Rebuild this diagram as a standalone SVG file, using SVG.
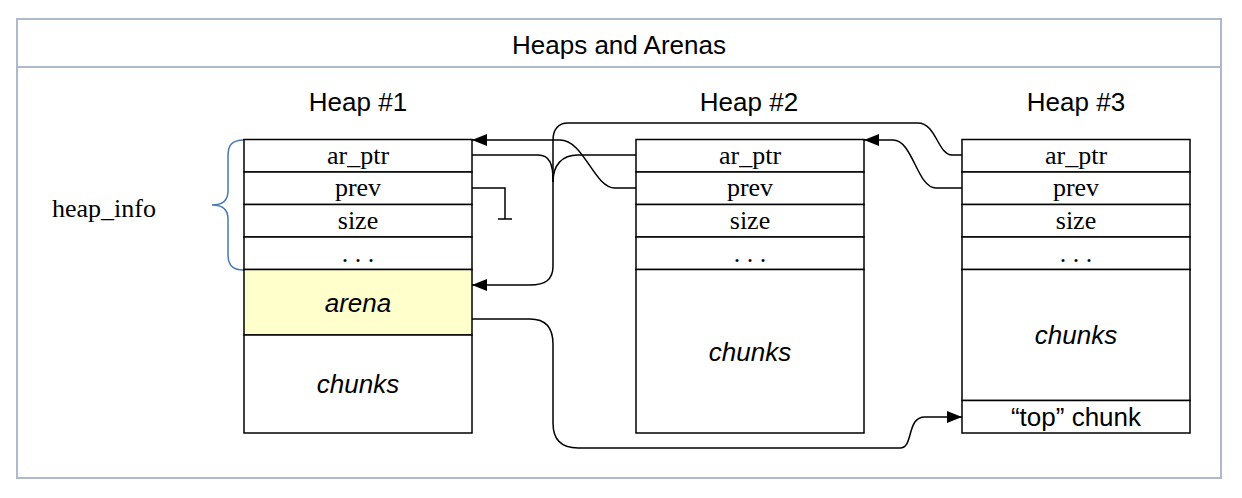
<svg xmlns="http://www.w3.org/2000/svg" width="1242" height="498" viewBox="0 0 1242 498">
<defs>
<marker id="arr" markerUnits="userSpaceOnUse" markerWidth="18" markerHeight="14" refX="15" refY="6" orient="auto">
<path d="M0,0 L15,6 L0,12 z" fill="#000"/>
</marker>
<style>
.frame{fill:#fff;stroke:#AEB9CB;stroke-width:2}
.box{fill:#fff;stroke:#000;stroke-width:1.5}
.yel{fill:#FFFFCC;stroke:#000;stroke-width:1.5}
.row{font-family:"Liberation Serif",serif;font-size:26px;fill:#000;text-anchor:middle}
.ttl{font-family:"Liberation Sans",Arial,sans-serif;font-size:26px;fill:#000;text-anchor:middle}
.it{font-family:"Liberation Sans",Arial,sans-serif;font-size:26px;font-style:italic;fill:#000;text-anchor:middle}
.conn{fill:none;stroke:#000;stroke-width:1.5}
</style>
</defs>
<rect x="0" y="0" width="1242" height="498" fill="#fff"/>
<g id="frame">
<rect class="frame" x="17" y="19" width="1204" height="459"/>
<line x1="17" y1="67" x2="1221" y2="67" stroke="#AEB9CB" stroke-width="2"/>
<text x="619" y="54" class="ttl" font-size="27.5">Heaps and Arenas</text>
</g>
<g id="heap_info_label">
<path d="M244,140 C231,140 228,146 228,156 V191 C228,200 223,205 212,205 C223,205 228,210 228,219 V254 C228,264 231,270 244,270" fill="none" stroke="#4A78B4" stroke-width="1.5"/>
<text x="104" y="217" class="row">heap_info</text>
</g>
<g id="heap1">
<text x="358" y="111" class="ttl">Heap #1</text>
<rect class="box" x="244" y="139.5" width="228" height="32.5"/>
<rect class="box" x="244" y="172" width="228" height="32.5"/>
<rect class="box" x="244" y="204.5" width="228" height="32.5"/>
<rect class="box" x="244" y="237" width="228" height="32.5"/>
<rect class="yel" x="244" y="269.5" width="228" height="65.5"/>
<rect class="box" x="244" y="335" width="228" height="98"/>
<text x="358" y="164" class="row">ar_ptr</text>
<text x="358" y="196" class="row">prev</text>
<text x="358" y="229" class="row">size</text>
<text x="358" y="262" class="row">. . .</text>
<text x="358" y="312" class="it">arena</text>
<text x="358" y="393" class="it">chunks</text>
</g>
<g id="heap2">
<text x="749" y="111" class="ttl">Heap #2</text>
<rect class="box" x="636" y="139.5" width="228" height="32.5"/>
<rect class="box" x="636" y="172" width="228" height="32.5"/>
<rect class="box" x="636" y="204.5" width="228" height="32.5"/>
<rect class="box" x="636" y="237" width="228" height="32.5"/>
<rect class="box" x="636" y="269.5" width="228" height="163.5"/>
<text x="750" y="164" class="row">ar_ptr</text>
<text x="750" y="196" class="row">prev</text>
<text x="750" y="229" class="row">size</text>
<text x="750" y="262" class="row">. . .</text>
<text x="750" y="361" class="it">chunks</text>
</g>
<g id="heap3">
<text x="1076" y="111" class="ttl">Heap #3</text>
<rect class="box" x="962" y="139.5" width="228" height="32.5"/>
<rect class="box" x="962" y="172" width="228" height="32.5"/>
<rect class="box" x="962" y="204.5" width="228" height="32.5"/>
<rect class="box" x="962" y="237" width="228" height="32.5"/>
<rect class="box" x="962" y="269.5" width="228" height="131"/>
<rect class="box" x="962" y="400.5" width="228" height="32.5"/>
<text x="1076" y="164" class="row">ar_ptr</text>
<text x="1076" y="196" class="row">prev</text>
<text x="1076" y="229" class="row">size</text>
<text x="1076" y="262" class="row">. . .</text>
<text x="1076" y="344" class="it">chunks</text>
<text x="1076" y="426" class="ttl" font-size="25">“top” chunk</text>
</g>
<g id="connectors">
<path class="conn" marker-end="url(#arr)" d="M472,155 H538 C550,155 553,165 553,180 V266 C553,280 545,285 530,285 H472"/>
<path class="conn" d="M636,155 H578 C562,155 553,165 553,182"/>
<path class="conn" d="M962,155 H952 C938,155 936,123 918,123 H568 C558,123 553,130 553,140 V182"/>
<path class="conn" marker-end="url(#arr)" d="M636,188 H615 C594,188 584,140 560,140 H472"/>
<path class="conn" marker-end="url(#arr)" d="M962,188 H936 C917,188 913,140 893,140 H864"/>
<path class="conn" d="M472,188 H505 V219 M498,219 H512"/>
<path class="conn" marker-end="url(#arr)" d="M472,319 H530 C546,319 553,328 553,344 V423 C553,440 562,448 578,448 H900 C914,448 906,417 925,417 H962"/>
</g>
</svg>
